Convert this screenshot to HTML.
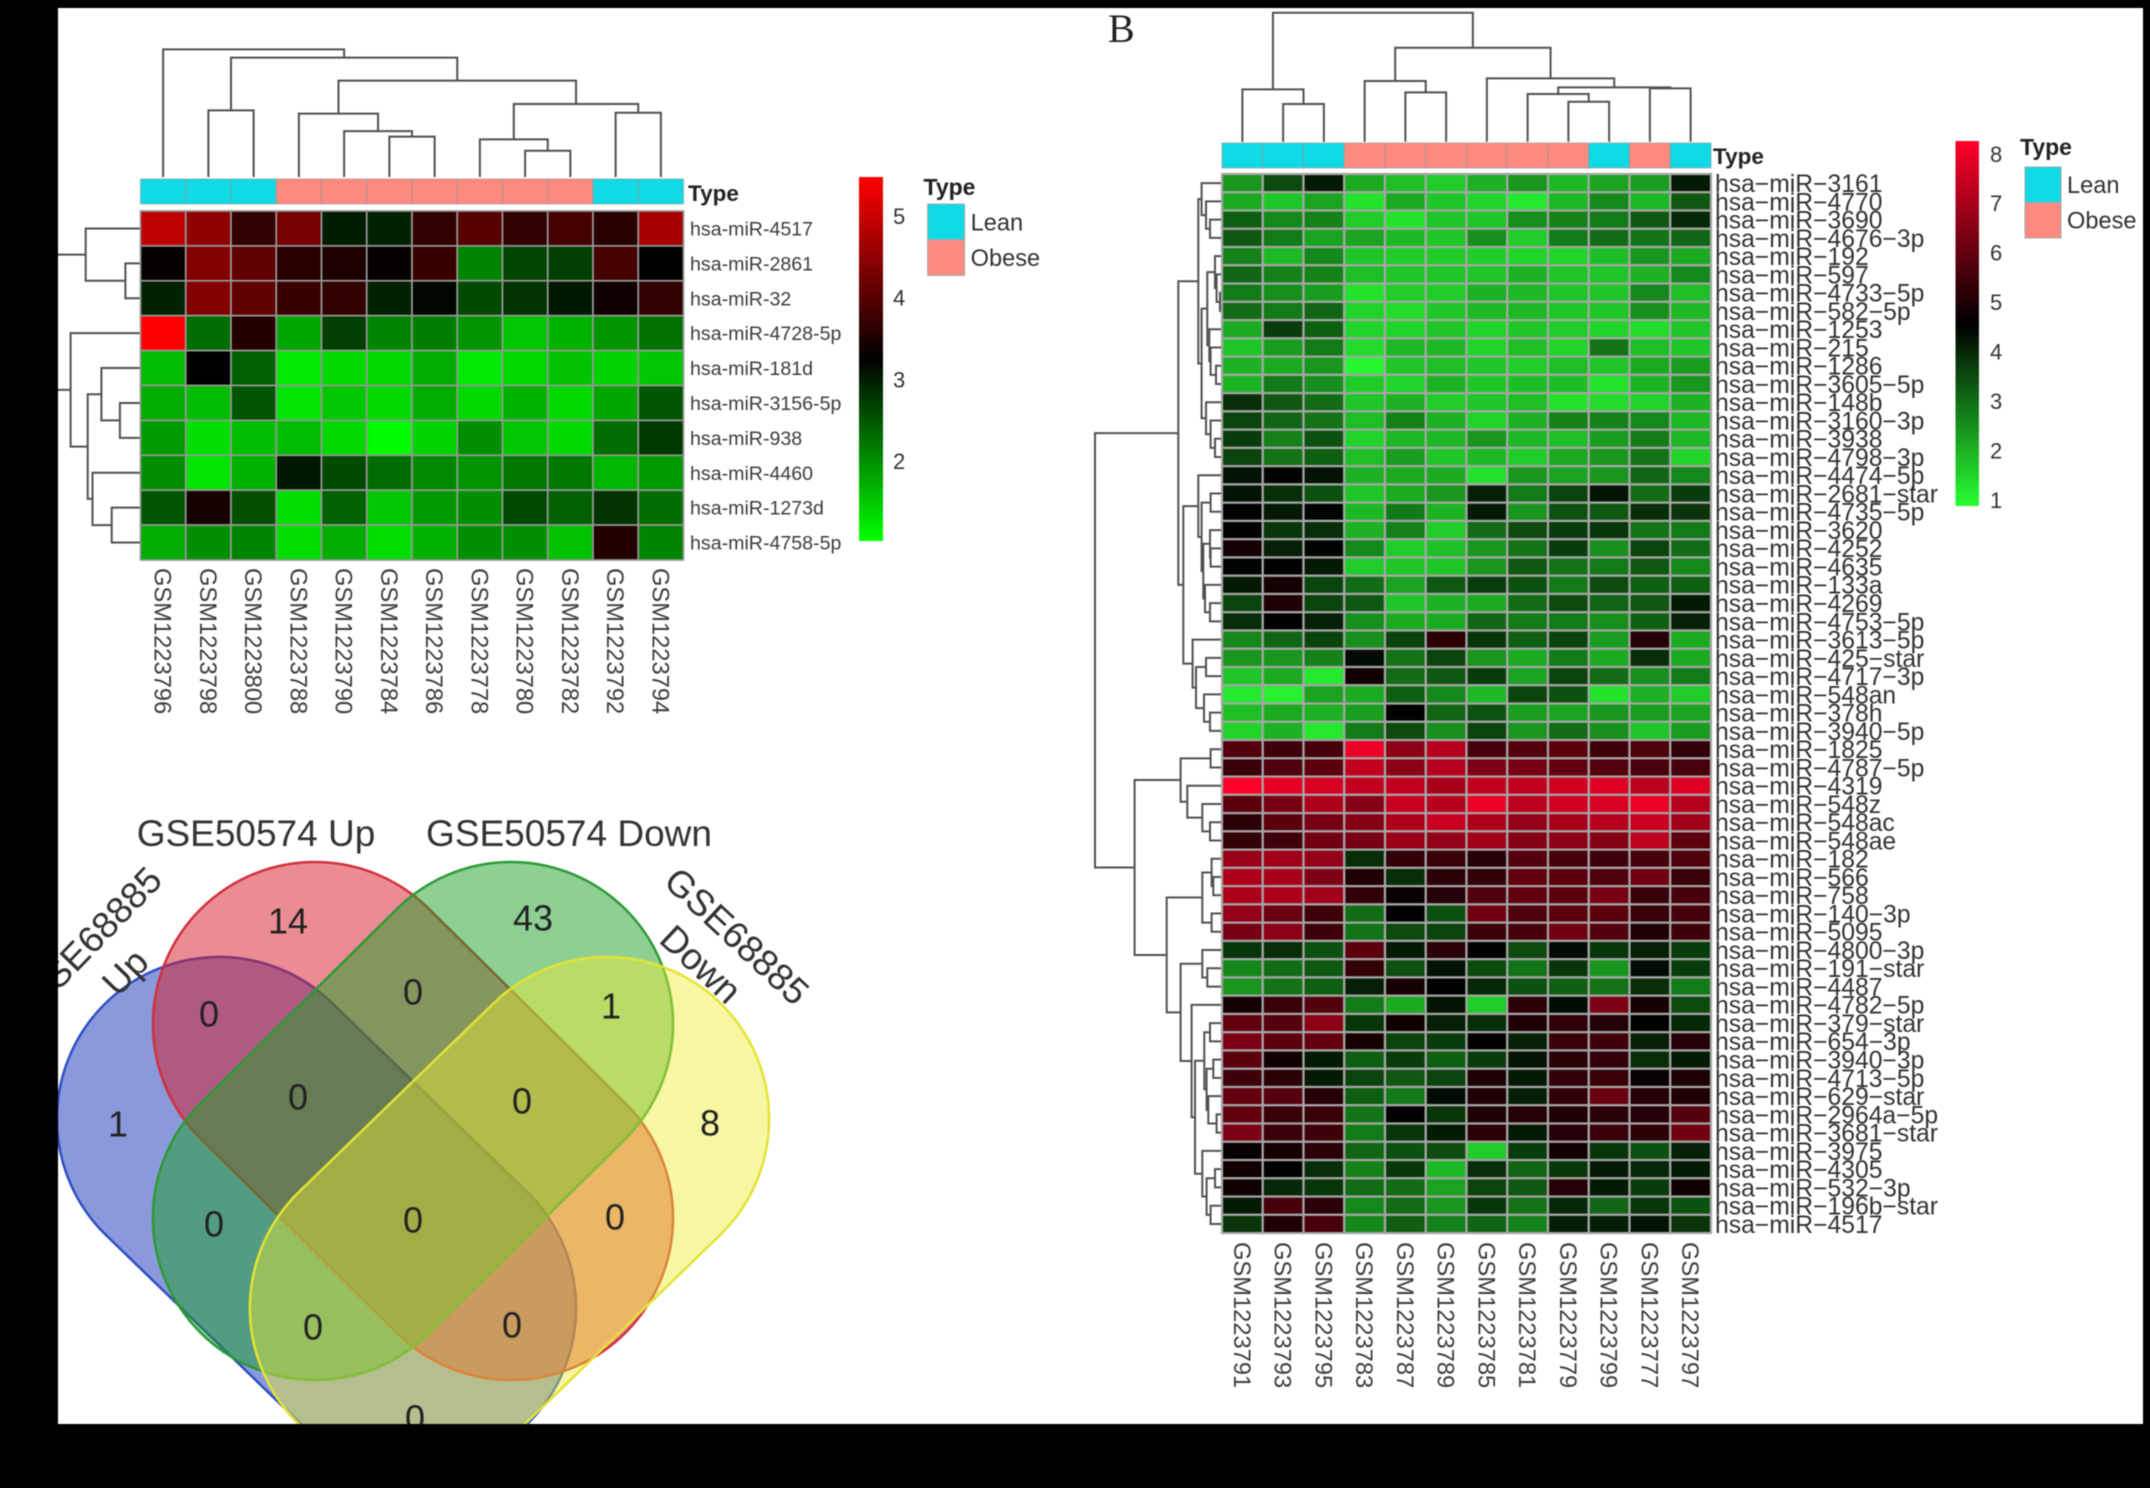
<!DOCTYPE html>
<html lang="en">
<head>
<meta charset="utf-8">
<title>Heatmaps and Venn diagram of miRNA expression</title>
<style>
html,body{margin:0;padding:0;background:#000;width:2150px;height:1488px;overflow:hidden}
svg{display:block;filter:blur(.6px)}
text{font-family:"Liberation Sans",sans-serif}
</style>
</head>
<body>
<svg id="figure" xmlns="http://www.w3.org/2000/svg" width="2150" height="1488" viewBox="0 0 2150 1488">
  <defs>
    <linearGradient id="gradA" x1="0" y1="0" x2="0" y2="1">
      <stop offset="0" stop-color="rgb(255,0,0)"/><stop offset=".5" stop-color="rgb(0,0,0)"/><stop offset="1" stop-color="rgb(0,255,0)"/>
    </linearGradient>
    <linearGradient id="gradB" x1="0" y1="0" x2="0" y2="1">
      <stop offset="0" stop-color="rgb(255,0,40)"/><stop offset=".5" stop-color="rgb(0,0,0)"/><stop offset="1" stop-color="rgb(40,255,50)"/>
    </linearGradient>
  </defs>
  <rect x="0" y="0" width="2150" height="1488" fill="#fff"/>
  <g id="panelA"></g>
  <g id="panelB"></g>
  <text x="1108" y="42" font-size="40" style="font-family:'Liberation Serif',serif" fill="#222">B</text>

  <g id="venn">
    <rect x="-297.9" y="-162" width="595.8" height="324" rx="162" transform="translate(316.5 1213.5) rotate(44.1)" fill="rgb(40,70,190)" fill-opacity=".55" stroke="#2d4fc4" stroke-width="2.5"/>
    <rect x="-299.9" y="-162" width="599.8" height="324" rx="162" transform="translate(413 1121) rotate(44.7)" fill="rgb(215,25,40)" fill-opacity=".5" stroke="#d0303f" stroke-width="2.5"/>
    <rect x="-299.9" y="-162" width="599.8" height="324" rx="162" transform="translate(413 1121) rotate(-44.7)" fill="rgb(30,160,40)" fill-opacity=".5" stroke="#2c9a35" stroke-width="2.5"/>
    <rect x="-297.9" y="-162" width="595.8" height="324" rx="162" transform="translate(509.5 1213.5) rotate(-44.1)" fill="rgb(235,235,50)" fill-opacity=".45" stroke="#e3e335" stroke-width="2.5"/>
    <g fill="#333" font-size="37" text-anchor="middle">
      <text x="256" y="846">GSE50574 Up</text>
      <text x="569" y="846">GSE50574 Down</text>
      <text transform="translate(92 938) rotate(-46)" dy=".35em">GSE68885</text>
      <text transform="translate(125 972) rotate(-46)" dy=".35em">Up</text>
      <text transform="translate(737 936) rotate(43)" dy=".35em">GSE68885</text>
      <text transform="translate(701 964) rotate(43)" dy=".35em">Down</text>
    </g>
    <g fill="#222" font-size="36" text-anchor="middle" dominant-baseline="central">
      <text x="288" y="921">14</text>
      <text x="533" y="918">43</text>
      <text x="209" y="1014">0</text>
      <text x="413" y="992">0</text>
      <text x="611" y="1006">1</text>
      <text x="118" y="1124">1</text>
      <text x="298" y="1097">0</text>
      <text x="522" y="1101">0</text>
      <text x="710" y="1123">8</text>
      <text x="214" y="1224">0</text>
      <text x="413" y="1220">0</text>
      <text x="615" y="1217">0</text>
      <text x="313" y="1327">0</text>
      <text x="512" y="1325">0</text>
      <text x="415" y="1418">0</text>
    </g>
  </g>

  <g id="frame" fill="#000">
    <rect x="0" y="0" width="2150" height="8"/>
    <rect x="0" y="0" width="58" height="1488"/>
    <rect x="2143" y="0" width="7" height="1488"/>
    <rect x="0" y="1424" width="2150" height="64"/>
  </g>
</svg>
<script>
/* ---------- Panel A data ---------- */
const samplesA = ["GSM1223796","GSM1223798","GSM1223800","GSM1223788","GSM1223790","GSM1223784","GSM1223786","GSM1223778","GSM1223780","GSM1223782","GSM1223792","GSM1223794"];
const typesA = ["Lean","Lean","Lean","Obese","Obese","Obese","Obese","Obese","Obese","Obese","Lean","Lean"];
const genesA = ["hsa-miR-4517","hsa-miR-2861","hsa-miR-32","hsa-miR-4728-5p","hsa-miR-181d","hsa-miR-3156-5p","hsa-miR-938","hsa-miR-4460","hsa-miR-1273d","hsa-miR-4758-5p"];
const valuesA = [
[4.9,4.5,3.7,4.3,3.0,2.95,3.7,4.0,3.7,3.85,3.6,4.7],
[3.3,4.4,4.1,3.6,3.5,3.3,3.75,2.1,2.65,2.7,3.85,3.25],
[2.95,4.4,4.1,3.75,3.7,2.95,3.2,2.6,2.8,3.05,3.4,3.7],
[5.48,2.3,3.55,1.8,2.7,2.1,2.15,1.95,1.5,1.7,1.95,2.25],
[1.6,3.25,2.4,1.2,1.35,1.35,1.75,1.2,1.35,1.55,1.4,1.5],
[1.75,1.6,2.5,1.25,1.5,1.35,1.75,1.35,1.7,1.35,1.8,2.5],
[1.9,1.3,1.6,1.6,1.35,1.05,1.4,2.0,1.5,1.35,2.3,2.75],
[2.0,1.25,1.7,3.05,2.6,2.3,2.05,1.95,2.2,2.2,1.65,1.9],
[2.5,3.45,2.55,1.3,2.4,1.5,1.9,2.0,2.6,2.4,2.8,2.3],
[1.75,2.0,2.1,1.3,1.75,1.3,1.7,2.0,2.0,1.55,3.55,2.1]
];
const colorDomainA = [1.02,3.25,5.48];
const colorTicksA = [5,4,3,2];
const colTreeA = [12.76,0,[11.94,[6.66,1,2],[9.64,[6.34,3,[4.59,4,[4.04,5,6]]],[7.30,[3.76,7,[2.62,8,9]],[6.43,10,11]]]]];
const rowTreeA = [10,[5.48,0,[1.51,1,2]],[6.99,3,[5.28,[3.91,4,[2.06,5,6]],[4.80,7,[2.88,8,9]]]]];

/* ---------- Panel B data ---------- */
const samplesB = ["GSM1223791","GSM1223793","GSM1223795","GSM1223783","GSM1223787","GSM1223789","GSM1223785","GSM1223781","GSM1223779","GSM1223799","GSM1223777","GSM1223797"];
const typesB = ["Lean","Lean","Lean","Obese","Obese","Obese","Obese","Obese","Obese","Lean","Obese","Lean"];
const genesB = ["3161","4770","3690","4676−3p","192","597","4733−5p","582−5p","1253","215","1286","3605−5p","148b","3160−3p","3938","4798−3p","4474−5p","2681−star","4735−5p","3620","4252","4635","133a","4269","4753−5p","3613−5p","425−star","4717−3p","548an","378h","3940−5p","1825","4787−5p","4319","548z","548ac","548ae","182","566","758","140−3p","5095","4800−3p","191−star","4487","4782−5p","379−star","654−3p","3940−3p","4713−5p","629−star","2964a−5p","3681−star","3975","4305","532−3p","196b−star","4517"];
const valuesB = [
[2.4,3.5,4.2,2.1,1.8,1.6,2.0,2.4,1.9,2.2,2.3,4.2],
[2.1,1.7,2.2,1.3,2.1,1.7,1.5,1.2,1.9,2.6,1.9,3.3],
[3.2,2.6,2.7,1.6,1.3,1.7,1.7,2.5,2.7,2.8,3.3,4.0],
[3.3,2.8,2.2,2.2,1.9,1.7,2.5,1.6,2.8,3.0,2.9,3.1],
[2.7,1.9,2.6,1.7,1.6,1.6,1.6,1.5,1.5,1.8,2.4,2.1],
[3.1,2.7,2.7,1.8,1.7,1.7,1.7,2.0,1.7,1.7,2.0,2.6],
[2.8,2.5,2.3,1.3,1.6,1.6,2.0,1.9,1.7,1.7,2.6,1.8],
[3.0,2.8,3.1,1.5,1.4,1.7,1.9,1.9,1.7,1.7,2.5,1.9],
[2.1,3.7,3.2,1.5,1.5,1.7,1.5,1.7,1.6,1.5,1.4,1.7],
[1.7,2.3,2.8,1.4,1.9,1.9,1.5,1.8,1.5,2.9,1.8,1.7],
[2.0,2.1,2.4,1.0,1.7,1.8,1.7,1.6,1.8,1.7,2.1,2.3],
[2.0,2.8,2.5,1.6,1.5,2.0,1.7,1.8,1.8,1.3,2.0,2.4],
[3.9,3.3,3.0,1.7,2.0,1.6,1.7,1.8,1.3,1.4,1.5,2.0],
[3.6,3.1,2.9,1.8,2.7,2.0,1.5,2.0,2.7,2.7,2.6,1.9],
[3.7,2.7,3.4,1.5,1.9,1.9,2.4,1.9,1.8,2.3,2.8,1.9],
[3.6,2.9,3.2,1.8,2.3,1.7,1.9,1.6,2.1,2.4,2.9,1.5],
[4.3,4.5,4.3,2.0,2.1,2.1,1.3,2.4,2.2,2.4,3.1,2.6],
[4.3,3.9,3.4,1.7,2.1,2.4,4.1,2.8,3.6,4.3,3.0,3.7],
[4.6,4.2,4.5,1.9,2.8,2.0,4.2,2.4,3.4,3.3,3.9,3.8],
[4.6,3.8,3.9,2.0,2.7,1.6,3.0,3.5,3.7,3.8,2.9,2.8],
[4.9,4.1,4.5,2.6,1.6,1.8,2.4,2.9,3.7,2.5,3.6,3.0],
[4.5,4.6,4.2,1.6,1.7,1.7,2.4,3.3,2.9,2.8,3.3,2.6],
[4.2,4.9,3.6,3.0,2.2,3.3,3.7,3.4,2.8,3.5,3.2,3.2],
[3.6,5.0,3.6,3.3,1.7,2.0,2.1,3.0,3.5,3.1,3.3,4.2],
[3.9,4.6,4.1,2.5,2.1,2.1,3.1,2.8,2.8,2.5,3.2,4.1],
[2.6,3.1,3.6,2.5,3.6,5.2,3.8,3.2,3.6,2.3,5.1,2.1],
[2.4,2.4,2.7,4.4,2.9,3.6,2.4,2.1,2.8,2.1,3.9,2.1],
[1.7,2.1,1.2,4.8,3.0,3.3,3.7,2.2,3.6,3.0,2.5,2.8],
[1.2,1.1,2.2,2.1,3.2,2.6,1.9,3.6,3.4,1.3,2.0,1.6],
[1.8,2.1,2.0,2.3,4.6,3.1,3.4,2.3,2.2,2.4,2.3,2.2],
[1.5,2.0,1.2,2.8,3.5,2.5,3.6,2.4,3.0,2.5,1.7,2.3],
[5.8,5.5,5.6,8.0,6.6,7.2,5.6,5.8,5.9,5.5,5.7,5.3],
[5.4,5.7,5.9,7.4,6.6,7.2,6.4,6.3,6.0,5.8,5.6,5.6],
[8.26,7.9,7.7,7.4,7.4,7.0,7.4,7.4,7.6,7.8,7.3,7.8],
[5.9,6.3,7.1,6.5,7.5,7.2,8.0,7.3,7.6,7.7,8.0,7.2],
[5.2,5.9,6.3,6.5,7.1,7.5,7.1,6.7,7.0,7.2,7.5,6.9],
[5.3,5.5,6.2,6.3,6.8,6.7,6.9,6.5,6.6,6.5,7.3,5.9],
[6.8,6.9,6.7,3.9,5.3,5.4,5.1,5.8,5.6,5.5,5.6,5.7],
[7.1,7.0,6.4,5.0,3.9,5.2,5.3,6.0,5.9,5.7,6.2,5.4],
[7.1,7.1,6.9,5.3,4.7,5.1,5.7,6.0,5.9,6.3,5.4,5.6],
[6.7,6.1,5.5,3.0,4.6,3.4,6.2,5.7,5.9,5.9,5.4,5.6],
[6.3,6.6,5.5,2.9,3.5,3.6,5.4,5.6,6.2,5.8,5.0,5.5],
[3.8,3.9,3.4,5.9,4.2,5.2,4.6,3.5,4.4,3.8,4.1,3.7],
[2.6,3.0,3.3,5.3,3.4,4.3,3.5,2.9,3.8,2.4,4.4,3.7],
[2.4,2.9,3.2,4.1,4.9,4.6,4.0,3.4,3.2,2.9,3.9,2.8],
[4.9,5.4,5.8,2.8,2.1,4.3,1.6,5.2,4.4,6.4,4.9,3.5],
[6.0,5.8,6.6,3.8,4.8,4.1,3.9,5.0,5.3,5.1,4.6,4.0],
[6.4,5.9,6.0,4.9,3.6,3.7,4.6,4.1,5.4,5.5,4.1,5.1],
[5.9,4.8,4.2,3.2,3.7,3.2,3.7,4.3,5.2,5.3,3.9,4.2],
[5.5,5.2,4.2,3.6,3.3,3.6,5.0,4.2,5.3,5.4,4.7,5.0],
[6.0,5.8,5.1,3.2,2.8,4.4,5.0,4.1,5.3,6.1,5.1,5.0],
[6.0,5.4,5.4,2.9,4.6,3.8,5.0,5.1,5.0,5.2,5.1,5.8],
[6.4,5.4,5.5,2.8,3.8,4.2,5.2,4.2,5.1,5.4,5.2,6.2],
[4.7,4.9,5.2,3.1,3.4,3.5,1.6,3.7,4.8,3.8,3.4,4.1],
[4.8,4.6,3.9,2.7,3.8,1.9,3.9,3.1,3.8,4.2,4.0,4.2],
[4.8,4.0,3.8,3.0,3.0,2.2,3.6,3.3,5.1,4.2,3.7,4.8],
[4.2,5.6,5.2,2.6,3.0,2.4,3.8,2.9,4.0,3.1,3.8,3.4],
[3.8,5.0,5.6,2.6,3.2,2.7,3.1,2.7,4.1,4.1,4.3,3.8]
];
const colorDomainB = [0.88,4.57,8.26];
const colorTicksB = [8,7,6,5,4,3,2,1];
const colTreeB = [12.9,[5.23,0,[3.77,1,2]],[9.4,[6.07,3,[4.93,4,5]],[6.33,6,[5.43,[4.77,7,[4.0,8,9]],[5.33,10,11]]]]];
const rowTreeTopB = [4.5,
  [2.5,[2.17,0,[1.73,1,[1.33,2,3]]],
       [2.17,[1.6,[0.83,4,[0.67,5,[0.33,6,7]]],[1.4,8,[1.27,9,[0.73,10,11]]]],
             [1.73,12,[1.27,13,[0.83,14,15]]]]],
  [4.0,[2.5,16,[2.17,[1.27,17,18],[2.0,[1.33,19,[1.27,20,21]],[1.83,22,[1.33,23,24]]]]],
       [3.07,25,[2.73,[1.73,26,27],[1.93,28,[1.33,29,30]]]]]];
const rowTreeBottomB = [8.87,
  [4.27,[1.27,31,32],[3.6,33,[2.1,34,[1.33,35,36]]]],
  [5.66,[2.1,[1.17,37,[1.0,38,39]],[1.17,40,41]],
        [4.27,[2.1,42,[1.6,43,44]],
              [3.17,45,[2.83,[1.9,[1.33,46,47],[1.67,[1.0,48,49],[1.5,50,[0.67,51,52]]]],
                             [2.1,53,[1.67,[0.83,54,55],[1.27,56,57]]]]]]]];
const rowTreeB = [12.83,rowTreeTopB,rowTreeBottomB];

/* ---------- Shared legend data ---------- */
const legendTypes = ["Lean","Obese"];
const typeColors = {Lean:"#0fdae5",Obese:"#fc8a80"};

/* ---------- Drawing ---------- */
const NS = "http://www.w3.org/2000/svg";
function make(tag, attrs, parent, txt){
  const n = document.createElementNS(NS, tag);
  for (const k in attrs) n.setAttribute(k, attrs[k]);
  if (txt !== undefined) n.textContent = txt;
  parent.appendChild(n);
  return n;
}
function colorFor(v, domain, low, high){
  const [a,m,b] = domain;
  const t = Math.max(0, Math.min(1, v < m ? (m - v) / (m - a) : (v - m) / (b - m)));
  const c = v < m ? low : high;
  return "rgb(" + c.map(x => Math.round(x * t)).join(",") + ")";
}
function drawTree(node, leaf, depth, orient, parent){
  if (typeof node === "number") return {c: leaf(node), h: 0};
  const A = drawTree(node[1], leaf, depth, orient, parent);
  const B = drawTree(node[2], leaf, depth, orient, parent);
  const h = node[0];
  const d = orient === "top"
    ? "M" + A.c + " " + depth(A.h) + "V" + depth(h) + "H" + B.c + "V" + depth(B.h)
    : "M" + depth(A.h) + " " + A.c + "H" + depth(h) + "V" + B.c + "H" + depth(B.h);
  const p = make("path", {d: d, fill: "none", stroke: "#505050", "stroke-width": 2}, parent);
  
  
  return {c: (A.c + B.c) / 2, h: h};
}
function drawPanel(root, cfg){
  const x = i => cfg.x0 + cfg.cw * i;
  const y = i => cfg.y0 + cfg.rh * i;
  const xc = i => x(i) + cfg.cw / 2;
  const yc = i => y(i) + cfg.rh / 2;

  /* dendrograms */
  const gTop = make("g", {}, root);
  
  
  drawTree(cfg.colTree, xc, h => cfg.treeTopEdge - h * 10, "top", gTop);
  const gLeft = make("g", {}, root);
  
  
  drawTree(cfg.rowTree, yc, h => cfg.treeLeftEdge - h * 10, "left", gLeft);

  /* annotation bar */
  cfg.types.forEach((t, i) => {
    const r = make("rect", {x: x(i), y: cfg.annY, width: cfg.cw, height: cfg.annH, fill: typeColors[t], stroke: "rgba(150,150,150,.55)", "stroke-width": 1.2}, root);
    
    
  });
  const tt = make("text", {x: cfg.typeX, y: cfg.typeY, "font-size": 22.5, "font-weight": "bold", fill: "#222"}, root, "Type");
  
  

  /* cells */
  cfg.values.forEach((row, r) => row.forEach((v, c) => {
    const cell = make("rect", {x: x(c), y: y(r), width: cfg.cw, height: cfg.rh, fill: colorFor(v, cfg.domain, cfg.low, cfg.high), stroke: cfg.gridColor, "stroke-width": cfg.grid}, root);
    
    
  }));

  /* row labels */
  cfg.genes.forEach((g, r) => {
    const t = make("text", {x: cfg.rowLabelX, y: yc(r), dy: ".36em", "font-size": cfg.rowFont, fill: cfg.rowFill}, root, cfg.genePrefix + g);
    
    
  });

  /* column labels */
  cfg.samples.forEach((s, c) => {
    const t = make("text", {transform: "translate(" + xc(c) + " " + cfg.colLabelY + ") rotate(90)", dy: ".36em", "font-size": 23.7, fill: "#3c3c3c"}, root, s);
    
    
  });

  /* colour bar */
  const bar = make("rect", {x: cfg.barX, y: cfg.barTop, width: cfg.barW, height: cfg.barBottom - cfg.barTop, fill: "url(#" + cfg.grad + ")"}, root);
  
  
  const barY = v => cfg.barBottom - (v - cfg.domain[0]) / (cfg.domain[2] - cfg.domain[0]) * (cfg.barBottom - cfg.barTop);
  cfg.ticks.forEach(v => {
    const t = make("text", {x: cfg.tickX, y: barY(v), dy: ".36em", "font-size": 22, fill: "#333"}, root, String(v));
    
    
  });

  /* legend */
  const lt = make("text", {x: cfg.legTitleX, y: cfg.legTitleY, "font-size": 23, "font-weight": "bold", fill: "#222"}, root, "Type");
  
  
  legendTypes.forEach((t, i) => {
    const sw = make("rect", {x: cfg.legX, y: cfg.legY + i * cfg.legH, width: cfg.legW, height: cfg.legH, fill: typeColors[t], stroke: "#a8a8a8", "stroke-width": 1}, root);
    
    
    const lb = make("text", {x: cfg.legX + cfg.legW + 6, y: cfg.legY + (i + .5) * cfg.legH, dy: ".36em", "font-size": 23.6, fill: "#333"}, root, t);
    
    
  });
}

drawPanel(document.getElementById("panelA"), {
  samples: samplesA, types: typesA, genes: genesA, genePrefix: "", values: valuesA,
  domain: colorDomainA, low: [0,255,0], high: [255,0,0], grad: "gradA", ticks: colorTicksA,
  colTree: colTreeA, rowTree: rowTreeA,
  x0: 140.5, y0: 211, cw: 45.25, rh: 34.9, grid: 1.7, gridColor: "#979797",
  treeTopEdge: 177, treeLeftEdge: 140.5,
  annY: 179, annH: 25, typeX: 688, typeY: 201,
  rowLabelX: 690, rowFont: 19.6, rowFill: "#3c3c3c", colLabelY: 568,
  barX: 859, barW: 24, barTop: 177, barBottom: 541, tickX: 893,
  legTitleX: 923.5, legTitleY: 195, legX: 927.6, legY: 204, legW: 37, legH: 35.7
});
drawPanel(document.getElementById("panelB"), {
  samples: samplesB, types: typesB, genes: genesB, genePrefix: "hsa−miR−", values: valuesB,
  domain: colorDomainB, low: [40,255,50], high: [255,0,40], grad: "gradB", ticks: colorTicksB,
  colTree: colTreeB, rowTree: rowTreeB,
  x0: 1222, y0: 174, cw: 40.75, rh: 18.26, grid: 2.2, gridColor: "#a6a6a6",
  treeTopEdge: 141.7, treeLeftEdge: 1223.3,
  annY: 143, annH: 25, typeX: 1713, typeY: 164,
  rowLabelX: 1715, rowFont: 24.7, rowFill: "#333", colLabelY: 1242,
  barX: 1955.5, barW: 23.5, barTop: 141, barBottom: 506, tickX: 1990,
  legTitleX: 2020, legTitleY: 155, legX: 2025, legY: 167, legW: 36, legH: 35.5
});
</script>
</body>
</html>
